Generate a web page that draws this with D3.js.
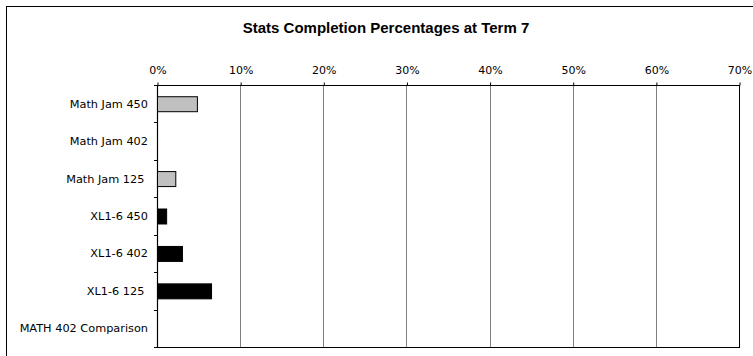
<!DOCTYPE html>
<html>
<head>
<meta charset="utf-8">
<script src="https://cdn.jsdelivr.net/npm/d3@7/dist/d3.min.js"></script>
<style>
  html, body { margin: 0; padding: 0; background: #fff; }
  svg { display: block; }
  text { white-space: pre; }
</style>
</head>
<body>
<svg id="chart" width="753" height="356"></svg>
<script>
// Course categories, top to bottom
const categories = ["Math Jam 450", "Math Jam 402", "Math Jam 125 ", "XL1-6 450", "XL1-6 402", "XL1-6 125 ", "MATH 402 Comparison"];
// Completion percentages per series (null = category not in series)
const mathJamValues = [4.8, 0, 2.2, null, null, null, null];
const xlValues = [null, null, null, 1.1, 3.0, 6.5, 0];
const tickValues = [0, 10, 20, 30, 40, 50, 60, 70];
const tickLabels = ["0%", "10%", "20%", "30%", "40%", "50%", "60%", "70%"];
const title = "Stats Completion Percentages at Term 7";

const svg = d3.select("#chart");
const plot = { left: 157, right: 739, top: 85, bottom: 347 };

// Outer chart frame
svg.append("rect")
  .attr("x", 6.5).attr("y", 6.5)
  .attr("width", 800).attr("height", 400)
  .attr("fill", "#fff").attr("stroke", "#000").attr("stroke-width", 1);

svg.append("text")
  .attr("x", 386).attr("y", 33)
  .attr("text-anchor", "middle")
  .attr("font-family", "'Liberation Sans', Arial, sans-serif")
  .attr("font-weight", "bold")
  .attr("font-size", 15)
  .attr("fill", "#000")
  .text(title);

const x = d3.scaleLinear().domain([0, 70]).range([plot.left, plot.right]);
const y = d3.scaleBand().domain(categories).range([plot.top, plot.bottom])
  .paddingInner(0.6).paddingOuter(0.3);

// Vertical gridlines
svg.append("g").selectAll("line")
  .data(tickValues.filter(v => v > 0 && v < 70))
  .join("line")
  .attr("x1", d => Math.round(x(d)) + 0.5).attr("x2", d => Math.round(x(d)) + 0.5)
  .attr("y1", plot.top).attr("y2", plot.bottom)
  .attr("stroke", "#808080").attr("stroke-width", 1);

// Plot border (top axis, right, bottom)
svg.append("rect")
  .attr("x", plot.left + 0.5).attr("y", plot.top + 0.5)
  .attr("width", plot.right - plot.left).attr("height", plot.bottom - plot.top)
  .attr("fill", "none").attr("stroke", "#000").attr("stroke-width", 1);

// Top value axis
const xAxis = d3.axisTop(x)
  .tickValues(tickValues)
  .tickFormat((d, i) => tickLabels[i])
  .tickSizeInner(3).tickSizeOuter(0).tickPadding(9);
const gx = svg.append("g")
  .attr("transform", `translate(0.5,${plot.top + 0.5})`)
  .call(xAxis);
gx.select(".domain").remove();
gx.selectAll("line").attr("stroke", "#000");
gx.selectAll("text")
  .attr("font-family", "'DejaVu Sans', Verdana, sans-serif")
  .attr("font-size", 11).attr("fill", "#000");

// Left category axis with ticks at band boundaries
const step = (plot.bottom - plot.top) / categories.length;
const gy = svg.append("g");
gy.append("line")
  .attr("x1", plot.left + 0.5).attr("x2", plot.left + 0.5)
  .attr("y1", plot.top).attr("y2", plot.bottom + 0.5)
  .attr("stroke", "#000").attr("stroke-width", 1.2);
gy.selectAll("line.tick")
  .data(d3.range(categories.length + 1))
  .join("line").attr("class", "tick")
  .attr("x1", plot.left - 3).attr("x2", plot.left)
  .attr("y1", i => Math.round(plot.top + i * step) + 0.5)
  .attr("y2", i => Math.round(plot.top + i * step) + 0.5)
  .attr("stroke", "#000");
gy.selectAll("text")
  .data(categories)
  .join("text")
  .attr("x", plot.left - 9)
  .attr("y", d => y(d) + y.bandwidth() / 2)
  .attr("dy", "0.35em")
  .attr("text-anchor", "end")
  .attr("font-family", "'DejaVu Sans', Verdana, sans-serif")
  .attr("font-size", 11.3)
  .attr("fill", "#000")
  .text(d => d);

// Bars
const series = [
  { values: mathJamValues, fill: "#c0c0c0" },
  { values: xlValues, fill: "#000000" }
];
series.forEach(s => {
  const pts = categories.map((c, i) => ({ c, v: s.values[i] }))
    .filter(d => d.v !== null && d.v > 0);
  svg.append("g").selectAll("rect")
    .data(pts)
    .join("rect")
    .attr("x", x(0) + 0.5)
    .attr("y", d => y(d.c) + 0.5)
    .attr("width", d => x(d.v) - x(0))
    .attr("height", y.bandwidth())
    .attr("fill", s.fill)
    .attr("stroke", "#000").attr("stroke-width", 1);
});
</script>
</body>
</html>
